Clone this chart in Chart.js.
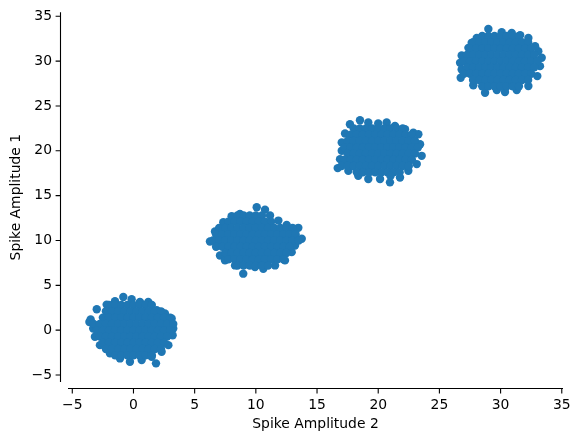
<!DOCTYPE html>
<html>
<head>
<meta charset="utf-8">
<script src="https://cdn.jsdelivr.net/npm/chart.js@4.4.1/dist/chart.umd.min.js"></script>
<style>
html,body{margin:0;padding:0;background:#fff;}
#wrap{width:580px;height:441px;}
</style>
</head>
<body>
<div id="wrap"><canvas id="c" width="580" height="441"></canvas></div>
<script>
const xTitle = 'Spike Amplitude 2';
const yTitle = 'Spike Amplitude 1';
const xTicks = [-5, 0, 5, 10, 15, 20, 25, 30, 35];
const yTicks = [-5, 0, 5, 10, 15, 20, 25, 30, 35];
const xRange = [-5.35, 35.1];
const yRange = [-5.78, 35.44];

// cluster around (0, 0)
const cluster0 = [
  [-3.5,1.19],[-3.6,0.9],[-3.0,2.33],[-2.19,2.85],[-1.51,3.22],[-0.83,3.7],[-0.15,3.44],[0.53,3.15],[1.21,3.15],
  [1.9,2.22],[2.57,1.85],[3.12,1.3],[3.25,0.19],[3.2,-0.56],[2.85,-1.67],[2.3,-2.4],[1.49,-2.96],[1.84,-3.7],
  [0.67,-3.33],[-0.29,-3.52],[-1.1,-3.15],[-1.92,-2.59],[-2.74,-1.67],[-3.15,-0.74],[-3.29,0.19],
  [-2,2.8],[-1.5,2.8],[-1,2.8],[-0.5,2.8],[0,2.8],[0.5,2.8],[1,2.8],[1.5,2.8],
  [-2.25,2.1],[-1.75,2.1],[-1.25,2.1],[-0.75,2.1],[-0.25,2.1],[0.25,2.1],[0.75,2.1],[1.25,2.1],[1.75,2.1],[2.25,2.1],
  [-2.5,1.4],[-2,1.4],[-1.5,1.4],[-1,1.4],[-0.5,1.4],[0,1.4],[0.5,1.4],[1,1.4],[1.5,1.4],[2,1.4],[2.5,1.4],[3,1.4],
  [-3.25,0.7],[-2.75,0.7],[-2.25,0.7],[-1.75,0.7],[-1.25,0.7],[-0.75,0.7],[-0.25,0.7],[0.25,0.7],[0.75,0.7],[1.25,0.7],[1.75,0.7],[2.25,0.7],[2.75,0.7],[3.25,0.7],
  [-3,0],[-2.5,0],[-2,0],[-1.5,0],[-1,0],[-0.5,0],[0,0],[0.5,0],[1,0],[1.5,0],[2,0],[2.5,0],[3,0],
  [-2.75,-0.7],[-2.25,-0.7],[-1.75,-0.7],[-1.25,-0.7],[-0.75,-0.7],[-0.25,-0.7],[0.25,-0.7],[0.75,-0.7],[1.25,-0.7],[1.75,-0.7],[2.25,-0.7],[2.75,-0.7],
  [-2.5,-1.4],[-2,-1.4],[-1.5,-1.4],[-1,-1.4],[-0.5,-1.4],[0,-1.4],[0.5,-1.4],[1,-1.4],[1.5,-1.4],[2,-1.4],[2.5,-1.4],
  [-2.25,-2.1],[-1.75,-2.1],[-1.25,-2.1],[-0.75,-2.1],[-0.25,-2.1],[0.25,-2.1],[0.75,-2.1],[1.25,-2.1],[1.75,-2.1],[2.25,-2.1],
  [-1.5,-2.8],[-1,-2.8],[-0.5,-2.8],[0,-2.8],[0.5,-2.8],[1,-2.8],[1.5,-2.8]
];

// cluster around (10, 10)
const cluster1 = [
  [6.25,9.89],[6.66,11.0],[7.07,8.33],[7.34,12.03],[8.02,12.7],[8.7,12.96],[9.38,12.48],[10.07,13.7],[10.75,13.44],
  [11.16,12.78],[11.84,12.22],[12.52,11.74],[13.47,11.41],[13.75,10.19],[13.2,9.44],[12.93,8.7],[12.38,7.78],
  [11.57,7.22],[10.61,6.85],[9.93,7.04],[8.97,6.3],[8.3,7.22],[7.48,7.78],
  [8.5,12.8],[9,12.8],[9.5,12.8],[10,12.8],[10.5,12.8],
  [7.75,12.1],[8.25,12.1],[8.75,12.1],[9.25,12.1],[9.75,12.1],[10.25,12.1],[10.75,12.1],[11.25,12.1],
  [7,11.4],[7.5,11.4],[8,11.4],[8.5,11.4],[9,11.4],[9.5,11.4],[10,11.4],[10.5,11.4],[11,11.4],[11.5,11.4],[12,11.4],[12.5,11.4],[13,11.4],
  [6.75,10.7],[7.25,10.7],[7.75,10.7],[8.25,10.7],[8.75,10.7],[9.25,10.7],[9.75,10.7],[10.25,10.7],[10.75,10.7],[11.25,10.7],[11.75,10.7],[12.25,10.7],[12.75,10.7],[13.25,10.7],
  [6.5,10],[7,10],[7.5,10],[8,10],[8.5,10],[9,10],[9.5,10],[10,10],[10.5,10],[11,10],[11.5,10],[12,10],[12.5,10],[13,10],[13.5,10],
  [6.75,9.3],[7.25,9.3],[7.75,9.3],[8.25,9.3],[8.75,9.3],[9.25,9.3],[9.75,9.3],[10.25,9.3],[10.75,9.3],[11.25,9.3],[11.75,9.3],[12.25,9.3],[12.75,9.3],
  [7.5,8.6],[8,8.6],[8.5,8.6],[9,8.6],[9.5,8.6],[10,8.6],[10.5,8.6],[11,8.6],[11.5,8.6],[12,8.6],[12.5,8.6],
  [7.75,7.9],[8.25,7.9],[8.75,7.9],[9.25,7.9],[9.75,7.9],[10.25,7.9],[10.75,7.9],[11.25,7.9],[11.75,7.9],[12.25,7.9],
  [8.5,7.2],[9,7.2],[9.5,7.2],[10,7.2],[10.5,7.2],[11,7.2]
];

// cluster around (20, 20)
const cluster2 = [
  [17.69,22.96],[18.51,23.41],[19.19,23.15],[20.0,23.04],[20.69,23.15],[21.37,22.78],[22.19,22.41],[22.87,22.03],
  [23.28,21.85],[23.42,20.74],[23.55,19.44],[23.15,18.52],[22.46,17.78],[21.78,17.03],[20.96,16.48],[20.15,16.85],
  [19.19,16.85],[18.37,17.22],[17.56,17.78],[16.69,18.07],[16.88,19.07],[17.02,20.0],[17.02,20.92],[17.29,21.93],
  [18,22.5],[18.5,22.5],[19,22.5],[19.5,22.5],[20,22.5],[20.5,22.5],[21,22.5],[21.5,22.5],[22,22.5],
  [17.75,21.8],[18.25,21.8],[18.75,21.8],[19.25,21.8],[19.75,21.8],[20.25,21.8],[20.75,21.8],[21.25,21.8],[21.75,21.8],[22.25,21.8],[22.75,21.8],
  [17.5,21.1],[18,21.1],[18.5,21.1],[19,21.1],[19.5,21.1],[20,21.1],[20.5,21.1],[21,21.1],[21.5,21.1],[22,21.1],[22.5,21.1],[23,21.1],
  [17.25,20.4],[17.75,20.4],[18.25,20.4],[18.75,20.4],[19.25,20.4],[19.75,20.4],[20.25,20.4],[20.75,20.4],[21.25,20.4],[21.75,20.4],[22.25,20.4],[22.75,20.4],[23.25,20.4],
  [17.5,19.7],[18,19.7],[18.5,19.7],[19,19.7],[19.5,19.7],[20,19.7],[20.5,19.7],[21,19.7],[21.5,19.7],[22,19.7],[22.5,19.7],[23,19.7],
  [17.25,19.0],[17.75,19.0],[18.25,19.0],[18.75,19.0],[19.25,19.0],[19.75,19.0],[20.25,19.0],[20.75,19.0],[21.25,19.0],[21.75,19.0],[22.25,19.0],[22.75,19.0],
  [17,18.3],[17.5,18.3],[18,18.3],[18.5,18.3],[19,18.3],[19.5,18.3],[20,18.3],[20.5,18.3],[21,18.3],[21.5,18.3],[22,18.3],[22.5,18.3],
  [18.25,17.6],[18.75,17.6],[19.25,17.6],[19.75,17.6],[20.25,17.6],[20.75,17.6],[21.25,17.6],[21.75,17.6],
  [21,17.2]
];

// cluster around (30, 30)
const cluster3 = [
  [29.0,33.59],[30.09,33.22],[30.91,33.15],[31.6,32.9],[32.27,32.59],[28.05,32.59],[27.64,32.04],[27.37,31.48],
  [26.82,30.63],[26.69,29.81],[26.82,29.07],[26.74,28.15],[27.77,27.3],[28.73,26.48],[29.69,26.78],[30.36,26.56],
  [31.32,26.78],[32.27,27.22],[33.0,28.33],[33.22,29.44],[33.36,30.37],[33.08,31.11],[32.82,31.67],
  [28.5,32.8],[29,32.8],[29.5,32.8],[30,32.8],[30.5,32.8],[31,32.8],[31.5,32.8],
  [27.75,32.1],[28.25,32.1],[28.75,32.1],[29.25,32.1],[29.75,32.1],[30.25,32.1],[30.75,32.1],[31.25,32.1],[31.75,32.1],[32.25,32.1],
  [27.5,31.4],[28,31.4],[28.5,31.4],[29,31.4],[29.5,31.4],[30,31.4],[30.5,31.4],[31,31.4],[31.5,31.4],[32,31.4],[32.5,31.4],
  [27.25,30.7],[27.75,30.7],[28.25,30.7],[28.75,30.7],[29.25,30.7],[29.75,30.7],[30.25,30.7],[30.75,30.7],[31.25,30.7],[31.75,30.7],[32.25,30.7],[32.75,30.7],
  [27,30],[27.5,30],[28,30],[28.5,30],[29,30],[29.5,30],[30,30],[30.5,30],[31,30],[31.5,30],[32,30],[32.5,30],[33,30],
  [27.25,29.3],[27.75,29.3],[28.25,29.3],[28.75,29.3],[29.25,29.3],[29.75,29.3],[30.25,29.3],[30.75,29.3],[31.25,29.3],[31.75,29.3],[32.25,29.3],[32.75,29.3],
  [27,28.6],[27.5,28.6],[28,28.6],[28.5,28.6],[29,28.6],[29.5,28.6],[30,28.6],[30.5,28.6],[31,28.6],[31.5,28.6],[32,28.6],[32.5,28.6],
  [27.75,27.9],[28.25,27.9],[28.75,27.9],[29.25,27.9],[29.75,27.9],[30.25,27.9],[30.75,27.9],[31.25,27.9],[31.75,27.9],[32.25,27.9],
  [28.5,27.2],[29,27.2],[29.5,27.2],[30,27.2],[30.5,27.2],[31,27.2],[31.5,27.2]
];

const points = [cluster0, cluster1, cluster2, cluster3]
  .flat()
  .map(p => ({x: p[0], y: p[1]}));

const FONT = {family: '"DejaVu Sans", sans-serif', size: 13.9};
const SPINE_OFFSET = 7;
const TICK_LEN = 4.9;
const fmt = v => String(v).replace('-', '\u2212');

const spinePlugin = {
  id: 'offsetSpines',
  afterDraw(chart) {
    const {ctx, chartArea, scales} = chart;
    const xs = scales.x, ys = scales.y;
    ctx.save();
    ctx.strokeStyle = '#000';
    ctx.lineWidth = 1.1;
    ctx.lineCap = 'butt';
    const lx = Math.round(chartArea.left - SPINE_OFFSET) - 0.5;
    const by = Math.round(chartArea.bottom + SPINE_OFFSET) - 0.5;
    ctx.beginPath();
    ctx.moveTo(lx, chartArea.top);
    ctx.lineTo(lx, chartArea.bottom);
    ctx.moveTo(chartArea.left, by);
    ctx.lineTo(chartArea.right, by);
    ys.ticks.forEach(t => {
      const py = ys.getPixelForValue(t.value);
      ctx.moveTo(lx, py);
      ctx.lineTo(lx - TICK_LEN, py);
    });
    xs.ticks.forEach(t => {
      const px = xs.getPixelForValue(t.value);
      ctx.moveTo(px, by);
      ctx.lineTo(px, by + TICK_LEN);
    });
    ctx.stroke();
    ctx.restore();
  }
};

new Chart(document.getElementById('c'), {
  type: 'scatter',
  data: {
    datasets: [{
      data: points,
      backgroundColor: '#1f77b4',
      borderColor: '#1f77b4',
      borderWidth: 0,
      pointRadius: 4.2,
      pointHoverRadius: 4.2
    }]
  },
  options: {
    responsive: false,
    animation: false,
    events: [],
    layout: {padding: {left: 0, right: 17, top: 11, bottom: 0}},
    plugins: {legend: {display: false}, tooltip: {enabled: false}},
    scales: {
      x: {
        type: 'linear',
        min: xRange[0], max: xRange[1],
        afterBuildTicks: s => { s.ticks = xTicks.map(v => ({value: v})); },
        afterFit: s => { s.height = 59; },
        border: {display: false},
        grid: {display: true, drawOnChartArea: false, drawTicks: true, tickLength: 12, color: 'rgba(0,0,0,0)'},
        ticks: {color: '#000', font: FONT, padding: 3, maxRotation: 0, autoSkip: false, callback: v => fmt(v)},
        title: {display: true, text: xTitle, color: '#000', font: FONT, padding: {top: 8, bottom: 8}}
      },
      y: {
        type: 'linear',
        min: yRange[0], max: yRange[1],
        afterBuildTicks: s => { s.ticks = yTicks.map(v => ({value: v})); },
        afterFit: s => { s.width = 68; },
        border: {display: false},
        grid: {display: true, drawOnChartArea: false, drawTicks: true, tickLength: 12, color: 'rgba(0,0,0,0)'},
        ticks: {color: '#000', font: FONT, padding: 4, autoSkip: false, callback: v => fmt(v)},
        title: {display: true, text: yTitle, color: '#000', font: FONT, padding: {top: 8, bottom: 8}}
      }
    }
  },
  plugins: [spinePlugin]
});
</script>
</body>
</html>
